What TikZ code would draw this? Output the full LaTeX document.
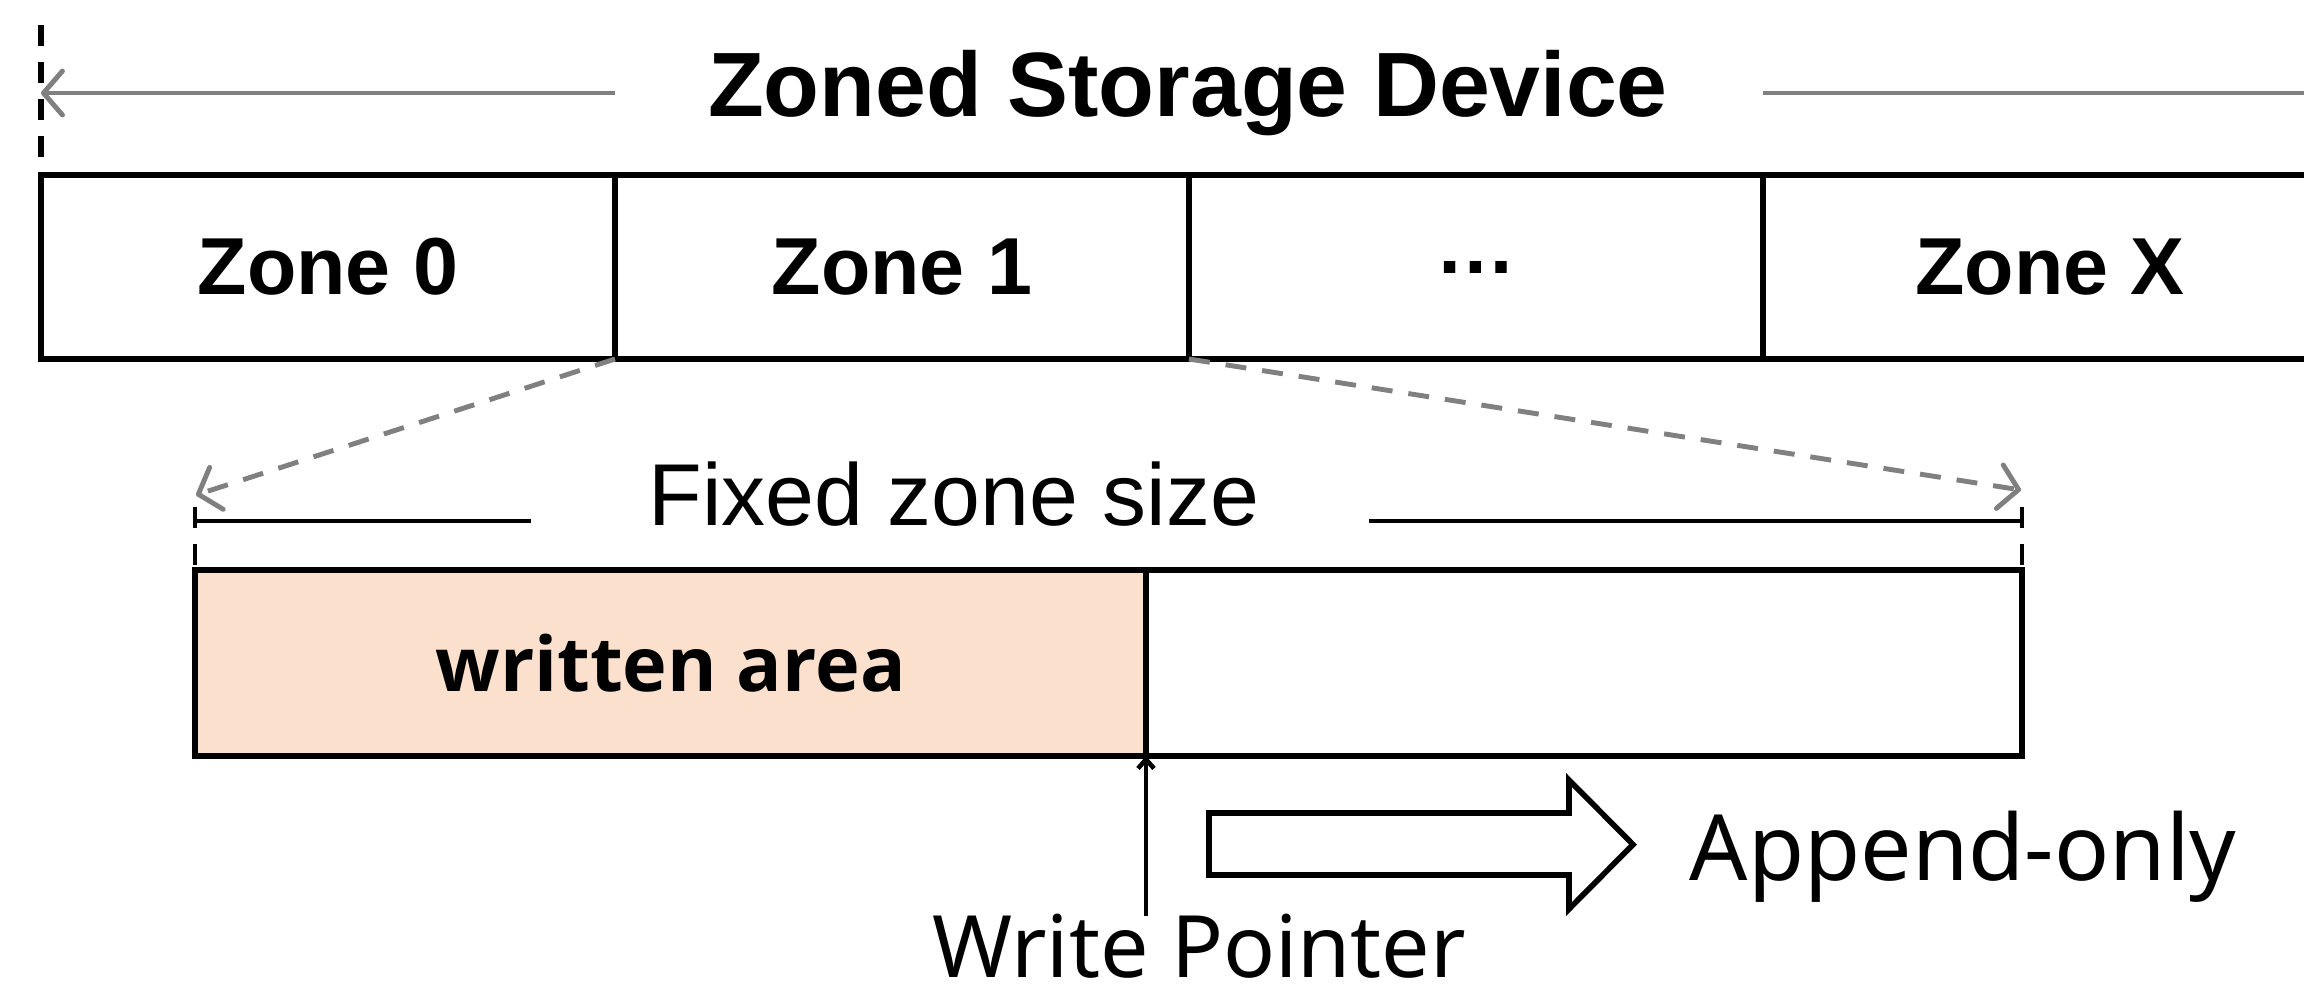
\documentclass[tikz,border=0pt]{standalone}
\usepackage{fontspec}
\setmainfont{Liberation Sans}
\newfontfamily\lightfont{Noto Sans}
\newfontfamily\heavyfont{Open Sans}
\usepackage{xcolor}
\usetikzlibrary{arrows.meta,positioning,calc}
\definecolor{writtenfill}{HTML}{FBE0CD}
\definecolor{guidegray}{HTML}{808080}

\begin{document}
\begin{tikzpicture}[x=0.1mm, y=-0.1mm,
    box/.style={draw=black, line width=1.7pt, inner sep=0pt, outer sep=0pt},
    guide/.style={draw=guidegray, line width=1.4pt},
    gapdash/.style={dash pattern=on 2.1mm off 1.6mm},
    barb/.style={-{Straight Barb[length=1.9mm,width=4.4mm,round]}},
    dimline/.style={line width=1.4pt}]
    \clip (0,0) rectangle (2304,994);

    %Device row
    \node (dev_title) [anchor=base, font=\fontsize{26pt}{30pt}\selectfont\bfseries] at (1188,116) {Zoned Storage Device};
    \begin{scope}[every node/.style={box, minimum width=57.4mm, minimum height=18.4mm, font=\fontsize{23pt}{27pt}\selectfont\bfseries}]
    \node (zone_0)               at (328,267)       {Zone 0};
    \node (zone_1) [right=0pt of zone_0] {Zone 1};
    \node (zone_2) [right=0pt of zone_1] {…};
    \node (zone_x) [right=0pt of zone_2] {Zone X};
    \end{scope}

    % Device span
    \coordinate (span_l) at ($(zone_0.north west)+(0,-82)$);
    \coordinate (span_r) at ($(zone_x.north east)+(0,-82)$);
    \draw[line width=1.5pt, gapdash] ($(zone_0.north west)+(0,-150)$) -- ($(zone_0.north west)+(0,-17)$);
    \draw[guide, barb] (zone_0.north east |- span_l) -- (span_l);
    \draw[guide, barb] (zone_2.north east |- span_r) -- (span_r);

    %One zone, enlarged
    \begin{scope}[every node/.style={box, minimum height=18.6mm}]
    \node (written) [fill=writtenfill, minimum width=95.1mm, font=\heavyfont\bfseries\fontsize{21.5pt}{26pt}\selectfont] at (670.5,663) {written area};
    \node (empty)   [right=0pt of written, minimum width=87.6mm] {};
    \end{scope}

    % Zone size
    \coordinate (dim_l) at ($(written.north west)+(0,-63)$);
    \coordinate (dim_r) at ($(empty.north east)+(0,-63)$);
    \draw[dimline, gapdash] (dim_l) -- (written.north west);
    \draw[dimline, gapdash] (dim_r) -- (empty.north east);
    \draw[dimline] ($(dim_l)+(0,14)$) -- ++(336,0);
    \draw[dimline] ($(dim_r)+(0,14)$) -- ++(-653,0);
    \node (fixed_size) [anchor=base, font=\fontsize{25pt}{29pt}\selectfont] at (954,525) {Fixed zone size};

    %Zoom lines
    \draw[guide, gapdash, barb] (zone_1.south west) -- ($(dim_l)+(1,-12)$);
    \draw[guide, gapdash, barb] (zone_1.south east) -- ($(dim_r)+(-1,-17)$);

    % Write pointer
    \coordinate (wp_foot) at ($(written.south east)+(0,160)$);
    \draw[line width=1.3pt, -{Straight Barb[length=0.9mm,width=1.6mm]}] (wp_foot) -- (written.south east);
    \node (wp_label) [anchor=base, inner sep=0pt, font=\lightfont\fontsize{24.5pt}{29pt}\selectfont] at (1199,977) {Write Pointer};

    % Append direction
    \draw[line width=1.6pt, line join=miter] (1209,813) -- (1569,813) -- (1569,780) -- (1633,844.5)
        -- (1569,909) -- (1569,875) -- (1209,875) -- cycle;
    \node (append_label) [anchor=base, font=\lightfont\fontsize{26pt}{30pt}\selectfont] at (1963,880) {Append-only};
\end{tikzpicture}
\end{document}
